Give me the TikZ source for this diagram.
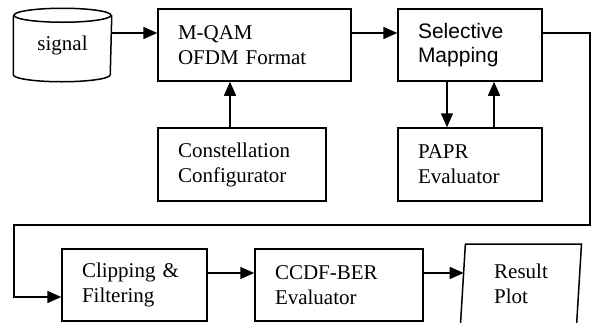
\documentclass[tikz,border=0pt]{standalone}
\usepackage{fontspec}
\setmainfont{Liberation Serif}
\newfontfamily\arialfont{Liberation Sans}
\usepackage{tikz}
\usetikzlibrary{shapes.geometric,arrows.meta,positioning,calc}

\begin{document}
\begin{tikzpicture}[
    x=1pt, y=-1pt,
    line width=1.5pt,
    font=\fontsize{21}{25}\selectfont,
    blk/.style={rectangle, draw, inner xsep=20pt, inner ysep=0pt, align=left, minimum height=72pt},
    arrow/.style={-{Triangle[length=14pt,width=12pt]}}
]
    \useasboundingbox (0,0) rectangle (595,322);

    % Source (drum outline drawn round the node)
    \node[minimum width=97pt, minimum height=72pt, inner sep=0pt] (signal) at (62.5,45) {signal};
    \draw ([yshift=-7pt]signal.north west) -- ([yshift=7pt]signal.south west)
        arc[start angle=180, end angle=360, x radius=48.5pt, y radius=7pt]
        -- ([yshift=-7pt]signal.north east);
    \draw ([yshift=-7pt]signal.north) ellipse[x radius=48.5pt, y radius=7pt];

    % Top row
    \node[blk, text width=153pt] (mqam) at (254.5,45) {M-QAM\\OFDM Format};
    \node[blk, text width=104pt, font=\arialfont\fontsize{21}{24}\selectfont] (selmap) at (470,45) {Selective\\Mapping};

    % Middle row
    \node[blk, text width=128pt, minimum height=73pt] (const) at (242,164.5) {Constellation\\Configurator};
    \node[blk, text width=104pt, minimum height=73pt] (papr) at (470,164.5) {PAPR\\Evaluator};

    % Bottom row
    \node[blk, text width=105pt] (clip) at (134.5,285) {Clipping \&\\Filtering};
    \node[blk, text width=128pt] (ccdf) at (339,285) {CCDF-BER\\Evaluator};
    \node[trapezium, draw, trapezium left angle=83, trapezium right angle=97, trapezium stretches body, minimum width=121pt, minimum height=80pt, align=left, inner sep=0pt] (res) at (521,284) {Result\\Plot};

    % Return path
    \coordinate (turnA) at (590,225);
    \coordinate (turnB) at (14,225);

    % Arrows
    \draw[arrow] ([yshift=12pt]signal.east) -- ([yshift=12pt]mqam.west);
    \draw[arrow] ([yshift=12pt]mqam.east) -- ([yshift=12pt]selmap.west);
    \draw[arrow] ([xshift=-12pt]const.north) -- ([xshift=-12pt]const.north |- mqam.south);
    \draw[arrow] ([xshift=-23pt]selmap.south) -- ([xshift=-23pt]selmap.south |- papr.north);
    \draw[arrow] ([xshift=24pt]papr.north) -- ([xshift=24pt]papr.north |- selmap.south);
    \draw[arrow] ([yshift=12pt]selmap.east) -| (turnA) -- (turnB) |- ([yshift=-12pt]clip.west);
    \draw[arrow] ([yshift=12pt]clip.east) -- ([yshift=12pt]ccdf.west);
    \draw[arrow] ([yshift=12pt]ccdf.east) -- ([yshift=12pt,xshift=1.5pt]ccdf.east -| res.west);
\end{tikzpicture}
\end{document}
